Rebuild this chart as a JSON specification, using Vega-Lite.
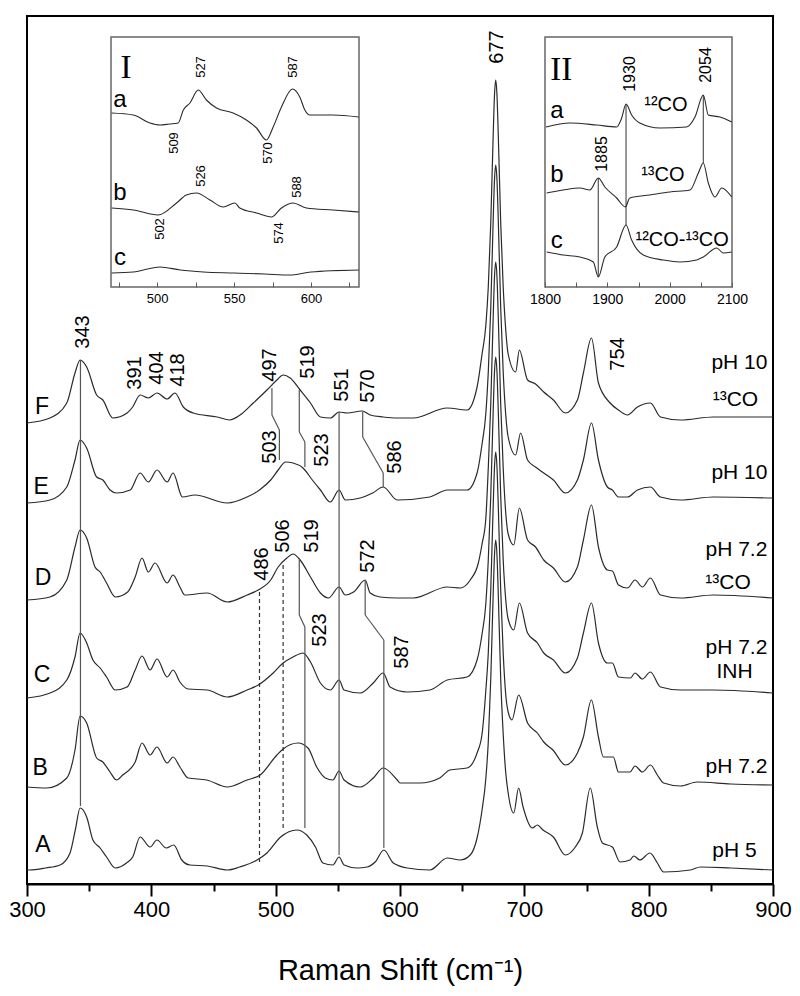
{
"$schema": "https://vega.github.io/schema/vega-lite/v6.json",
"width": 746, "height": 868,
"autosize": {"type": "none"},
"padding": {"left": 27, "top": 16, "right": 27, "bottom": 112},
"background": "white",
"config": {"font": "Liberation Sans", "view": {"stroke": "black", "strokeWidth": 2}},
"datasets": {
"spec": [
{"s":"A","x":300,"y":14},{"s":"A","x":302,"y":14},{"s":"A","x":315,"y":16},{"s":"A","x":326.6,"y":19},{"s":"A","x":334.6,"y":31},{"s":"A","x":339,"y":55},{"s":"A","x":342.7,"y":76},{"s":"A","x":348,"y":67},{"s":"A","x":353,"y":44},{"s":"A","x":358.8,"y":36},{"s":"A","x":364,"y":27},{"s":"A","x":371,"y":16},{"s":"A","x":380,"y":21},{"s":"A","x":385,"y":27},{"s":"A","x":391,"y":47},{"s":"A","x":399,"y":37},{"s":"A","x":404.5,"y":44},{"s":"A","x":412,"y":36},{"s":"A","x":418,"y":39},{"s":"A","x":424.5,"y":24},{"s":"A","x":431,"y":19},{"s":"A","x":445,"y":18},{"s":"A","x":461,"y":14},{"s":"A","x":471,"y":17},{"s":"A","x":485,"y":24},{"s":"A","x":493,"y":31},{"s":"A","x":504,"y":47},{"s":"A","x":517,"y":54},{"s":"A","x":525,"y":49},{"s":"A","x":532,"y":37},{"s":"A","x":538,"y":21},{"s":"A","x":546,"y":19},{"s":"A","x":551,"y":27},{"s":"A","x":555,"y":19},{"s":"A","x":565.5,"y":16},{"s":"A","x":573.6,"y":17},{"s":"A","x":580,"y":22},{"s":"A","x":587,"y":34},{"s":"A","x":594.6,"y":21},{"s":"A","x":605.8,"y":16},{"s":"A","x":624,"y":14},{"s":"A","x":638,"y":26},{"s":"A","x":648.5,"y":24},{"s":"A","x":656.5,"y":29},{"s":"A","x":662,"y":46},{"s":"A","x":666,"y":74},{"s":"A","x":669,"y":105},{"s":"A","x":671,"y":142},{"s":"A","x":673,"y":205},{"s":"A","x":675,"y":292},{"s":"A","x":676,"y":329},{"s":"A","x":677,"y":344},{"s":"A","x":678,"y":329},{"s":"A","x":679,"y":292},{"s":"A","x":681,"y":205},{"s":"A","x":683,"y":150},{"s":"A","x":685,"y":112},{"s":"A","x":687,"y":91},{"s":"A","x":691.5,"y":71},{"s":"A","x":695.4,"y":96},{"s":"A","x":699,"y":77},{"s":"A","x":706.4,"y":56},{"s":"A","x":710.5,"y":59},{"s":"A","x":715,"y":54},{"s":"A","x":723.4,"y":47},{"s":"A","x":733,"y":29},{"s":"A","x":741,"y":37},{"s":"A","x":746.7,"y":51},{"s":"A","x":753,"y":96},{"s":"A","x":758.7,"y":57},{"s":"A","x":762.8,"y":41},{"s":"A","x":770.8,"y":37},{"s":"A","x":777,"y":22},{"s":"A","x":785,"y":24},{"s":"A","x":788,"y":28},{"s":"A","x":793,"y":24},{"s":"A","x":801,"y":31},{"s":"A","x":807,"y":21},{"s":"A","x":812,"y":12},{"s":"A","x":833.6,"y":14},{"s":"A","x":841.6,"y":17},{"s":"A","x":866,"y":16},{"s":"A","x":900,"y":14},
{"s":"B","x":300,"y":97},{"s":"B","x":316,"y":96},{"s":"B","x":332,"y":106},{"s":"B","x":338.6,"y":134},{"s":"B","x":342.7,"y":168},{"s":"B","x":348,"y":161},{"s":"B","x":356,"y":126},{"s":"B","x":361,"y":122},{"s":"B","x":366.8,"y":112},{"s":"B","x":372,"y":104},{"s":"B","x":377,"y":109},{"s":"B","x":387,"y":122},{"s":"B","x":392.5,"y":141},{"s":"B","x":399,"y":129},{"s":"B","x":404.5,"y":137},{"s":"B","x":412.7,"y":121},{"s":"B","x":417.5,"y":127},{"s":"B","x":423,"y":117},{"s":"B","x":429.6,"y":106},{"s":"B","x":444.6,"y":104},{"s":"B","x":461,"y":97},{"s":"B","x":477,"y":104},{"s":"B","x":487.5,"y":109},{"s":"B","x":501,"y":129},{"s":"B","x":506,"y":135},{"s":"B","x":518,"y":141},{"s":"B","x":526,"y":136},{"s":"B","x":533,"y":117},{"s":"B","x":540,"y":106},{"s":"B","x":546,"y":104},{"s":"B","x":551,"y":113},{"s":"B","x":555,"y":104},{"s":"B","x":568,"y":97},{"s":"B","x":578.5,"y":106},{"s":"B","x":586.5,"y":116},{"s":"B","x":597.8,"y":104},{"s":"B","x":600,"y":101},{"s":"B","x":616,"y":101},{"s":"B","x":632,"y":106},{"s":"B","x":640,"y":114},{"s":"B","x":654,"y":116},{"s":"B","x":662,"y":131},{"s":"B","x":666,"y":150},{"s":"B","x":669,"y":193},{"s":"B","x":671,"y":231},{"s":"B","x":673,"y":294},{"s":"B","x":675,"y":380},{"s":"B","x":676,"y":417},{"s":"B","x":677,"y":432},{"s":"B","x":678,"y":417},{"s":"B","x":679,"y":380},{"s":"B","x":681,"y":294},{"s":"B","x":683,"y":231},{"s":"B","x":685,"y":190},{"s":"B","x":687,"y":172},{"s":"B","x":690,"y":164},{"s":"B","x":695.5,"y":189},{"s":"B","x":702.6,"y":161},{"s":"B","x":710.5,"y":151},{"s":"B","x":715.6,"y":142},{"s":"B","x":723,"y":134},{"s":"B","x":733,"y":119},{"s":"B","x":742.7,"y":131},{"s":"B","x":747.5,"y":147},{"s":"B","x":753.9,"y":184},{"s":"B","x":759.6,"y":147},{"s":"B","x":763.6,"y":127},{"s":"B","x":771.6,"y":127},{"s":"B","x":775.7,"y":112},{"s":"B","x":785,"y":112},{"s":"B","x":789,"y":118},{"s":"B","x":795,"y":112},{"s":"B","x":801.4,"y":119},{"s":"B","x":807,"y":109},{"s":"B","x":812,"y":101},{"s":"B","x":825.6,"y":98},{"s":"B","x":839,"y":102},{"s":"B","x":866,"y":100},{"s":"B","x":900,"y":99},
{"s":"C","x":300,"y":186},{"s":"C","x":318.5,"y":191},{"s":"C","x":332,"y":204},{"s":"C","x":338.6,"y":227},{"s":"C","x":342.7,"y":251},{"s":"C","x":348,"y":241},{"s":"C","x":353,"y":224},{"s":"C","x":358.8,"y":216},{"s":"C","x":364,"y":207},{"s":"C","x":371,"y":194},{"s":"C","x":380.5,"y":197},{"s":"C","x":387,"y":214},{"s":"C","x":392.5,"y":228},{"s":"C","x":399,"y":214},{"s":"C","x":404.6,"y":225},{"s":"C","x":412.7,"y":207},{"s":"C","x":417.5,"y":214},{"s":"C","x":423,"y":202},{"s":"C","x":429.6,"y":195},{"s":"C","x":444.9,"y":194},{"s":"C","x":461,"y":187},{"s":"C","x":477,"y":194},{"s":"C","x":486,"y":199},{"s":"C","x":498,"y":211},{"s":"C","x":506,"y":221},{"s":"C","x":514,"y":227},{"s":"C","x":522,"y":231},{"s":"C","x":528,"y":222},{"s":"C","x":536,"y":201},{"s":"C","x":544,"y":194},{"s":"C","x":551,"y":204},{"s":"C","x":555,"y":194},{"s":"C","x":568,"y":191},{"s":"C","x":578.5,"y":201},{"s":"C","x":586.5,"y":211},{"s":"C","x":592,"y":197},{"s":"C","x":605.8,"y":192},{"s":"C","x":624,"y":194},{"s":"C","x":638,"y":204},{"s":"C","x":654,"y":207},{"s":"C","x":662,"y":224},{"s":"C","x":666,"y":250},{"s":"C","x":669,"y":280},{"s":"C","x":671,"y":324},{"s":"C","x":673,"y":388},{"s":"C","x":675,"y":475},{"s":"C","x":676,"y":512},{"s":"C","x":677,"y":527},{"s":"C","x":678,"y":512},{"s":"C","x":679,"y":475},{"s":"C","x":681,"y":388},{"s":"C","x":683,"y":324},{"s":"C","x":685,"y":285},{"s":"C","x":687,"y":265},{"s":"C","x":691.5,"y":254},{"s":"C","x":696,"y":281},{"s":"C","x":702.6,"y":251},{"s":"C","x":710.5,"y":241},{"s":"C","x":715.6,"y":231},{"s":"C","x":723.4,"y":224},{"s":"C","x":733,"y":211},{"s":"C","x":742.7,"y":226},{"s":"C","x":747.5,"y":251},{"s":"C","x":754,"y":281},{"s":"C","x":759.6,"y":241},{"s":"C","x":766.8,"y":221},{"s":"C","x":770.8,"y":221},{"s":"C","x":775.7,"y":207},{"s":"C","x":785.3,"y":206},{"s":"C","x":789,"y":211},{"s":"C","x":795,"y":205},{"s":"C","x":801.4,"y":212},{"s":"C","x":809.5,"y":197},{"s":"C","x":825.6,"y":194},{"s":"C","x":852,"y":194},{"s":"C","x":900,"y":191},
{"s":"D","x":300,"y":284},{"s":"D","x":318.5,"y":287},{"s":"D","x":332,"y":304},{"s":"D","x":338.6,"y":337},{"s":"D","x":342.7,"y":354},{"s":"D","x":348,"y":346},{"s":"D","x":354.7,"y":317},{"s":"D","x":358.8,"y":312},{"s":"D","x":364,"y":301},{"s":"D","x":371,"y":287},{"s":"D","x":381,"y":292},{"s":"D","x":387,"y":307},{"s":"D","x":392.5,"y":326},{"s":"D","x":397.6,"y":312},{"s":"D","x":403,"y":321},{"s":"D","x":412.7,"y":301},{"s":"D","x":417.5,"y":309},{"s":"D","x":423,"y":297},{"s":"D","x":427,"y":289},{"s":"D","x":444.9,"y":291},{"s":"D","x":461,"y":282},{"s":"D","x":477,"y":289},{"s":"D","x":486,"y":294},{"s":"D","x":496,"y":304},{"s":"D","x":502,"y":317},{"s":"D","x":509,"y":326},{"s":"D","x":514,"y":330},{"s":"D","x":519.7,"y":324},{"s":"D","x":528,"y":307},{"s":"D","x":536,"y":291},{"s":"D","x":542.5,"y":286},{"s":"D","x":551,"y":297},{"s":"D","x":556,"y":289},{"s":"D","x":562.7,"y":292},{"s":"D","x":572,"y":304},{"s":"D","x":576,"y":291},{"s":"D","x":584,"y":287},{"s":"D","x":597.8,"y":286},{"s":"D","x":610.7,"y":286},{"s":"D","x":638,"y":297},{"s":"D","x":648.5,"y":296},{"s":"D","x":656.5,"y":304},{"s":"D","x":663,"y":321},{"s":"D","x":666,"y":340},{"s":"D","x":669,"y":365},{"s":"D","x":671,"y":416},{"s":"D","x":673,"y":480},{"s":"D","x":675,"y":569},{"s":"D","x":676,"y":607},{"s":"D","x":677,"y":622},{"s":"D","x":678,"y":607},{"s":"D","x":679,"y":569},{"s":"D","x":681,"y":480},{"s":"D","x":683,"y":416},{"s":"D","x":685,"y":372},{"s":"D","x":687,"y":350},{"s":"D","x":691.5,"y":339},{"s":"D","x":696,"y":376},{"s":"D","x":702.6,"y":344},{"s":"D","x":709,"y":337},{"s":"D","x":715.6,"y":324},{"s":"D","x":723.4,"y":316},{"s":"D","x":733,"y":302},{"s":"D","x":742.7,"y":317},{"s":"D","x":747.5,"y":344},{"s":"D","x":754,"y":379},{"s":"D","x":759.6,"y":337},{"s":"D","x":766.8,"y":314},{"s":"D","x":770.8,"y":313},{"s":"D","x":775.7,"y":299},{"s":"D","x":783,"y":296},{"s":"D","x":789,"y":304},{"s":"D","x":795,"y":297},{"s":"D","x":801.4,"y":306},{"s":"D","x":809.5,"y":289},{"s":"D","x":825.6,"y":286},{"s":"D","x":852,"y":289},{"s":"D","x":900,"y":286},
{"s":"E","x":300,"y":381},{"s":"E","x":318.5,"y":384},{"s":"E","x":332,"y":397},{"s":"E","x":338.6,"y":424},{"s":"E","x":342.7,"y":444},{"s":"E","x":348,"y":436},{"s":"E","x":356,"y":407},{"s":"E","x":361,"y":404},{"s":"E","x":366.8,"y":394},{"s":"E","x":372,"y":391},{"s":"E","x":383,"y":394},{"s":"E","x":391,"y":411},{"s":"E","x":397.6,"y":402},{"s":"E","x":404.6,"y":414},{"s":"E","x":412.7,"y":402},{"s":"E","x":417.5,"y":411},{"s":"E","x":425,"y":387},{"s":"E","x":435,"y":389},{"s":"E","x":461,"y":381},{"s":"E","x":477,"y":387},{"s":"E","x":487,"y":394},{"s":"E","x":496,"y":404},{"s":"E","x":502,"y":414},{"s":"E","x":508,"y":422},{"s":"E","x":514,"y":421},{"s":"E","x":522,"y":416},{"s":"E","x":529.5,"y":404},{"s":"E","x":536,"y":394},{"s":"E","x":544,"y":382},{"s":"E","x":551,"y":394},{"s":"E","x":556,"y":384},{"s":"E","x":568,"y":386},{"s":"E","x":578,"y":391},{"s":"E","x":586.5,"y":397},{"s":"E","x":597.8,"y":384},{"s":"E","x":624,"y":387},{"s":"E","x":638,"y":394},{"s":"E","x":654,"y":394},{"s":"E","x":662,"y":411},{"s":"E","x":666,"y":440},{"s":"E","x":669,"y":470},{"s":"E","x":671,"y":512},{"s":"E","x":673,"y":576},{"s":"E","x":675,"y":666},{"s":"E","x":676,"y":704},{"s":"E","x":677,"y":719},{"s":"E","x":678,"y":704},{"s":"E","x":679,"y":666},{"s":"E","x":681,"y":576},{"s":"E","x":683,"y":512},{"s":"E","x":685,"y":470},{"s":"E","x":687,"y":447},{"s":"E","x":693,"y":429},{"s":"E","x":697,"y":451},{"s":"E","x":702.6,"y":424},{"s":"E","x":709,"y":417},{"s":"E","x":715.6,"y":411},{"s":"E","x":723.4,"y":404},{"s":"E","x":733,"y":391},{"s":"E","x":742.7,"y":404},{"s":"E","x":747.5,"y":424},{"s":"E","x":754,"y":461},{"s":"E","x":759.6,"y":424},{"s":"E","x":766.8,"y":397},{"s":"E","x":770.8,"y":394},{"s":"E","x":775.7,"y":387},{"s":"E","x":783,"y":387},{"s":"E","x":791,"y":394},{"s":"E","x":801.4,"y":397},{"s":"E","x":809.5,"y":387},{"s":"E","x":825.6,"y":384},{"s":"E","x":852,"y":387},{"s":"E","x":900,"y":386},
{"s":"F","x":300,"y":461},{"s":"F","x":318.5,"y":466},{"s":"F","x":332,"y":481},{"s":"F","x":338.6,"y":511},{"s":"F","x":342.7,"y":524},{"s":"F","x":348,"y":517},{"s":"F","x":356,"y":489},{"s":"F","x":361,"y":484},{"s":"F","x":369,"y":466},{"s":"F","x":380.5,"y":471},{"s":"F","x":385,"y":477},{"s":"F","x":391,"y":489},{"s":"F","x":397.6,"y":486},{"s":"F","x":404.6,"y":491},{"s":"F","x":412.7,"y":485},{"s":"F","x":419,"y":491},{"s":"F","x":425.7,"y":477},{"s":"F","x":433.6,"y":471},{"s":"F","x":453,"y":467},{"s":"F","x":463,"y":464},{"s":"F","x":471.4,"y":469},{"s":"F","x":482,"y":481},{"s":"F","x":493,"y":494},{"s":"F","x":501,"y":504},{"s":"F","x":506,"y":509},{"s":"F","x":511.7,"y":506},{"s":"F","x":519.7,"y":494},{"s":"F","x":528,"y":481},{"s":"F","x":536,"y":467},{"s":"F","x":544,"y":466},{"s":"F","x":551,"y":472},{"s":"F","x":557.5,"y":471},{"s":"F","x":569.6,"y":473},{"s":"F","x":576,"y":469},{"s":"F","x":586.5,"y":467},{"s":"F","x":597.8,"y":466},{"s":"F","x":610.7,"y":466},{"s":"F","x":638,"y":476},{"s":"F","x":654,"y":474},{"s":"F","x":662,"y":497},{"s":"F","x":666,"y":530},{"s":"F","x":669,"y":558},{"s":"F","x":671,"y":597},{"s":"F","x":673,"y":661},{"s":"F","x":675,"y":751},{"s":"F","x":676,"y":789},{"s":"F","x":677,"y":804},{"s":"F","x":678,"y":789},{"s":"F","x":679,"y":751},{"s":"F","x":681,"y":661},{"s":"F","x":683,"y":597},{"s":"F","x":685,"y":555},{"s":"F","x":687,"y":530},{"s":"F","x":693,"y":512},{"s":"F","x":696,"y":534},{"s":"F","x":702.6,"y":504},{"s":"F","x":709,"y":500},{"s":"F","x":715.6,"y":492},{"s":"F","x":723.4,"y":484},{"s":"F","x":733,"y":471},{"s":"F","x":742.7,"y":484},{"s":"F","x":747.5,"y":511},{"s":"F","x":754,"y":546},{"s":"F","x":759.6,"y":501},{"s":"F","x":769,"y":481},{"s":"F","x":775.7,"y":474},{"s":"F","x":783,"y":469},{"s":"F","x":791,"y":477},{"s":"F","x":801.4,"y":481},{"s":"F","x":809.5,"y":467},{"s":"F","x":825.6,"y":464},{"s":"F","x":852,"y":467},{"s":"F","x":900,"y":467}
],
"segs": [
{"x":343,"y":524,"x2":343,"y2":78},
{"x":497,"y":496,"x2":497,"y2":469},{"x":497,"y":469,"x2":503,"y2":454},{"x":503,"y":454,"x2":503,"y2":424},
{"x":519,"y":494,"x2":519,"y2":452},{"x":519,"y":452,"x2":523.5,"y2":442},{"x":523.5,"y":442,"x2":523.5,"y2":417},
{"x":551,"y":472,"x2":551,"y2":29},
{"x":570,"y":472,"x2":570,"y2":447},{"x":570,"y":447,"x2":586.5,"y2":411},{"x":586.5,"y":411,"x2":586.5,"y2":397},
{"x":519,"y":326,"x2":519,"y2":269},{"x":519,"y":269,"x2":523.5,"y2":257},{"x":523.5,"y":257,"x2":523.5,"y2":56},
{"x":572,"y":304,"x2":572,"y2":269},{"x":572,"y":269,"x2":587,"y2":244},{"x":587,"y":244,"x2":587,"y2":36}
],
"dsegs": [
{"x":487,"y":292,"x2":487,"y2":22},
{"x":506,"y":319,"x2":506,"y2":54}
],
"rot": [
{"t":"343","x":345.1,"y":552},{"t":"391","x":386.9,"y":511},{"t":"404","x":404.6,"y":516},{"t":"418","x":421.5,"y":514},
{"t":"497","x":495.6,"y":519},{"t":"519","x":526.2,"y":522},{"t":"551","x":553.5,"y":499},{"t":"570","x":574.4,"y":498},
{"t":"503","x":495.6,"y":437},{"t":"523","x":537.4,"y":434},{"t":"586","x":596.2,"y":427},
{"t":"486","x":489.1,"y":320},{"t":"506","x":506,"y":348},{"t":"519","x":529.4,"y":348},{"t":"572","x":574.4,"y":328},
{"t":"523","x":535.8,"y":254},{"t":"587","x":601.8,"y":232},{"t":"754","x":775.7,"y":530},{"t":"677","x":678.3,"y":837}
],
"letters": [
{"t":"F","x":312.1,"y":477},{"t":"E","x":311.3,"y":397},{"t":"D","x":312.9,"y":306},{"t":"C","x":312.1,"y":209},{"t":"B","x":310.5,"y":116},{"t":"A","x":312.9,"y":39}
],
"right": [
{"t":"pH 10","x":873,"y":521},{"t":"¹³CO","x":869.8,"y":484},{"t":"pH 10","x":873,"y":411},
{"t":"pH 7.2","x":870.6,"y":334},{"t":"¹³CO","x":863.8,"y":301},{"t":"pH 7.2","x":870.6,"y":236},
{"t":"INH","x":869,"y":212},{"t":"pH 7.2","x":870.6,"y":117},{"t":"pH 5","x":869,"y":33}
],
"i1": [
{"s":"a","x":470.4,"y":174},{"s":"a","x":484.5,"y":172},{"s":"a","x":495.3,"y":164},{"s":"a","x":501.8,"y":162},{"s":"a","x":508,"y":163},{"s":"a","x":513.7,"y":164},{"s":"a","x":517,"y":177},{"s":"a","x":521.3,"y":184},{"s":"a","x":526.7,"y":197},{"s":"a","x":532,"y":187},{"s":"a","x":538.6,"y":179},{"s":"a","x":549.4,"y":174},{"s":"a","x":558,"y":167},{"s":"a","x":564.6,"y":159},{"s":"a","x":571,"y":147},{"s":"a","x":575.4,"y":160},{"s":"a","x":580.8,"y":180},{"s":"a","x":588,"y":198},{"s":"a","x":592.7,"y":190},{"s":"a","x":596,"y":177},{"s":"a","x":599.2,"y":172},{"s":"a","x":614.3,"y":172},{"s":"a","x":631,"y":170},
{"s":"b","x":470.4,"y":79},{"s":"b","x":484.5,"y":77},{"s":"b","x":500.7,"y":72},{"s":"b","x":512.6,"y":84},{"s":"b","x":519,"y":92},{"s":"b","x":525.6,"y":94},{"s":"b","x":534.3,"y":87},{"s":"b","x":542.9,"y":80},{"s":"b","x":550.5,"y":84},{"s":"b","x":553.7,"y":79},{"s":"b","x":564.6,"y":74},{"s":"b","x":574.3,"y":70},{"s":"b","x":580.8,"y":79},{"s":"b","x":588.3,"y":84},{"s":"b","x":597,"y":79},{"s":"b","x":614.3,"y":77},{"s":"b","x":631,"y":75},
{"s":"c","x":470.4,"y":14},{"s":"c","x":484.5,"y":15},{"s":"c","x":501.8,"y":20},{"s":"c","x":515,"y":17},{"s":"c","x":530,"y":15},{"s":"c","x":550,"y":14},{"s":"c","x":570,"y":13},{"s":"c","x":586,"y":12},{"s":"c","x":600,"y":15},{"s":"c","x":631,"y":17}
],
"i1frame": [{"x":470,"x2":631.2,"y":0,"y2":250}],
"i1rot": [
{"t":"527","x":528.4,"y":220},{"t":"587","x":588,"y":220},{"t":"509","x":511,"y":144},{"t":"570","x":572,"y":134},
{"t":"526","x":528.4,"y":111},{"t":"588","x":590.7,"y":100},{"t":"502","x":501.8,"y":58},{"t":"574","x":579,"y":54}
],
"i1let": [{"t":"a","x":475.8,"y":180},{"t":"b","x":475.8,"y":87},{"t":"c","x":475.8,"y":22}],
"i1num": [{"t":"I","x":479.7,"y":209}],
"i2": [
{"s":"a","x":1801.6,"y":160},{"s":"a","x":1840,"y":164},{"s":"a","x":1883,"y":162},{"s":"a","x":1915,"y":160},{"s":"a","x":1923,"y":169},{"s":"a","x":1930,"y":183},{"s":"a","x":1939,"y":172},{"s":"a","x":1952,"y":164},{"s":"a","x":1984.5,"y":159},{"s":"a","x":2027,"y":160},{"s":"a","x":2040.6,"y":170},{"s":"a","x":2054,"y":192},{"s":"a","x":2062,"y":172},{"s":"a","x":2080.8,"y":170},{"s":"a","x":2099.5,"y":165},
{"s":"b","x":1802.7,"y":94},{"s":"b","x":1829,"y":97},{"s":"b","x":1856,"y":99},{"s":"b","x":1872,"y":97},{"s":"b","x":1885.5,"y":109},{"s":"b","x":1896,"y":100},{"s":"b","x":1915,"y":89},{"s":"b","x":1929,"y":80},{"s":"b","x":1936,"y":89},{"s":"b","x":1968,"y":92},{"s":"b","x":2000.5,"y":95},{"s":"b","x":2032.6,"y":97},{"s":"b","x":2046,"y":114},{"s":"b","x":2054,"y":124},{"s":"b","x":2062,"y":104},{"s":"b","x":2072.7,"y":90},{"s":"b","x":2083.5,"y":99},{"s":"b","x":2099.5,"y":90},
{"s":"c","x":1802.7,"y":35},{"s":"c","x":1829,"y":32},{"s":"c","x":1856,"y":30},{"s":"c","x":1877.5,"y":25},{"s":"c","x":1885.5,"y":10},{"s":"c","x":1896,"y":30},{"s":"c","x":1915,"y":40},{"s":"c","x":1930,"y":62},{"s":"c","x":1939,"y":47},{"s":"c","x":1957.7,"y":32},{"s":"c","x":1989.8,"y":27},{"s":"c","x":2016.6,"y":25},{"s":"c","x":2043.4,"y":27},{"s":"c","x":2054,"y":30},{"s":"c","x":2075.5,"y":39},{"s":"c","x":2086,"y":34},{"s":"c","x":2099.5,"y":35}
],
"i2frame": [{"x":1800,"x2":2100,"y":0,"y2":250}],
"i2segs": [{"x":1930,"y":183,"x2":1930,"y2":62},{"x":2054,"y":192,"x2":2054,"y2":124},{"x":1885.5,"y":109,"x2":1885.5,"y2":10}],
"i2rot": [{"t":"1930","x":1936,"y":213},{"t":"2054","x":2058,"y":222},{"t":"1885","x":1891,"y":133}],
"i2co": [{"t":"¹²CO","x":1994,"y":182},{"t":"¹³CO","x":1989,"y":112},{"t":"¹²CO-¹³CO","x":2020,"y":47}],
"i2let": [{"t":"a","x":1819,"y":169},{"t":"b","x":1819,"y":105},{"t":"c","x":1819,"y":39}],
"i2num": [{"t":"II","x":1826,"y":207}]
},
"resolve": {"scale": {"x": "independent", "y": "independent"}, "axis": {"x": "independent", "y": "independent"}},
"layer": [
{
"encoding": {
"x": {"field": "x", "type": "quantitative", "scale": {"domain": [300, 900], "nice": false, "zero": false},
"axis": {"orient": "bottom", "values": [300,350,400,450,500,550,600,650,700,750,800,850,900], "labelExpr": "datum.value % 100 === 0 ? datum.label : ''", "tickSize": {"condition": {"test": "datum.value % 100 === 0", "value": 12}, "value": 7}, "tickWidth": 2, "tickColor": "black", "domainColor": "black", "domainWidth": 2, "labelFontSize": 22, "labelColor": "black", "labelPadding": 3, "labelFlush": false, "grid": false, "title": "Raman Shift (cm⁻¹)", "titleFontSize": 29, "titleFontWeight": "normal", "titleColor": "black", "titlePadding": 36}},
"y": {"field": "y", "type": "quantitative", "scale": {"domain": [0, 868], "nice": false, "zero": false}, "axis": null}
},
"layer": [
{"data": {"name": "spec"}, "mark": {"type": "line", "color": "#2a2a2a", "strokeWidth": 1.2, "interpolate": "monotone"}, "encoding": {"detail": {"field": "s"}}},
{"data": {"name": "segs"}, "mark": {"type": "rule", "color": "#555", "strokeWidth": 1.2}, "encoding": {"x2": {"field": "x2"}, "y2": {"field": "y2"}}},
{"data": {"name": "dsegs"}, "mark": {"type": "rule", "color": "#333", "strokeWidth": 1.2, "strokeDash": [4, 3]}, "encoding": {"x2": {"field": "x2"}, "y2": {"field": "y2"}}},
{"data": {"name": "rot"}, "mark": {"type": "text", "angle": 270, "fontSize": 20, "color": "black", "align": "center", "baseline": "middle"}, "encoding": {"text": {"field": "t"}}},
{"data": {"name": "letters"}, "mark": {"type": "text", "fontSize": 23, "color": "black", "align": "center", "baseline": "middle"}, "encoding": {"text": {"field": "t"}}},
{"data": {"name": "right"}, "mark": {"type": "text", "fontSize": 21, "color": "black", "align": "center", "baseline": "middle"}, "encoding": {"text": {"field": "t"}}}
]
},
{
"encoding": {
"x": {"field": "x", "type": "quantitative", "scale": {"domain": [470, 631.2], "range": [84, 332], "nice": false, "zero": false},
"axis": {"orient": "bottom", "offset": -597, "values": [475,500,525,550,575,600,625], "labelExpr": "datum.value % 50 === 0 ? datum.label : ''", "tickSize": -5, "tickColor": "#555", "domain": false, "labelFontSize": 13, "labelColor": "black", "labelPadding": 10, "grid": false, "title": null}},
"y": {"field": "y", "type": "quantitative", "scale": {"domain": [0, 250], "range": [271, 21], "nice": false, "zero": false}, "axis": null}
},
"layer": [
{"data": {"name": "i1frame"}, "mark": {"type": "rect", "fillOpacity": 0, "stroke": "#666", "strokeWidth": 1.5}, "encoding": {"x2": {"field": "x2"}, "y2": {"field": "y2"}}},
{"data": {"name": "i1"}, "mark": {"type": "line", "color": "#2a2a2a", "strokeWidth": 1.1, "interpolate": "monotone"}, "encoding": {"detail": {"field": "s"}}},
{"data": {"name": "i1rot"}, "mark": {"type": "text", "angle": 270, "fontSize": 13, "color": "black", "align": "center", "baseline": "middle"}, "encoding": {"text": {"field": "t"}}},
{"data": {"name": "i1let"}, "mark": {"type": "text", "fontSize": 24, "color": "black", "align": "center", "baseline": "alphabetic"}, "encoding": {"text": {"field": "t"}}},
{"data": {"name": "i1num"}, "mark": {"type": "text", "fontSize": 33, "font": "Liberation Serif", "color": "black", "align": "center", "baseline": "alphabetic"}, "encoding": {"text": {"field": "t"}}}
]
},
{
"encoding": {
"x": {"field": "x", "type": "quantitative", "scale": {"domain": [1800, 2100], "range": [518, 705], "nice": false, "zero": false},
"axis": {"orient": "bottom", "offset": -597, "values": [1800,1850,1900,1950,2000,2050,2100], "format": "d", "labelExpr": "datum.value % 100 === 0 ? datum.label : ''", "tickSize": -5, "tickColor": "#555", "domain": false, "labelFontSize": 14, "labelColor": "black", "labelPadding": 10, "labelFlush": false, "grid": false, "title": null}},
"y": {"field": "y", "type": "quantitative", "scale": {"domain": [0, 250], "range": [271, 21], "nice": false, "zero": false}, "axis": null}
},
"layer": [
{"data": {"name": "i2frame"}, "mark": {"type": "rect", "fillOpacity": 0, "stroke": "#666", "strokeWidth": 1.5}, "encoding": {"x2": {"field": "x2"}, "y2": {"field": "y2"}}},
{"data": {"name": "i2segs"}, "mark": {"type": "rule", "color": "#555", "strokeWidth": 1.2}, "encoding": {"x2": {"field": "x2"}, "y2": {"field": "y2"}}},
{"data": {"name": "i2"}, "mark": {"type": "line", "color": "#2a2a2a", "strokeWidth": 1.1, "interpolate": "monotone"}, "encoding": {"detail": {"field": "s"}}},
{"data": {"name": "i2rot"}, "mark": {"type": "text", "angle": 270, "fontSize": 16, "color": "black", "align": "center", "baseline": "middle"}, "encoding": {"text": {"field": "t"}}},
{"data": {"name": "i2co"}, "mark": {"type": "text", "fontSize": 20, "color": "black", "align": "center", "baseline": "middle"}, "encoding": {"text": {"field": "t"}}},
{"data": {"name": "i2let"}, "mark": {"type": "text", "fontSize": 24, "color": "black", "align": "center", "baseline": "alphabetic"}, "encoding": {"text": {"field": "t"}}},
{"data": {"name": "i2num"}, "mark": {"type": "text", "fontSize": 33, "font": "Liberation Serif", "color": "black", "align": "center", "baseline": "alphabetic"}, "encoding": {"text": {"field": "t"}}}
]
}
]
}
